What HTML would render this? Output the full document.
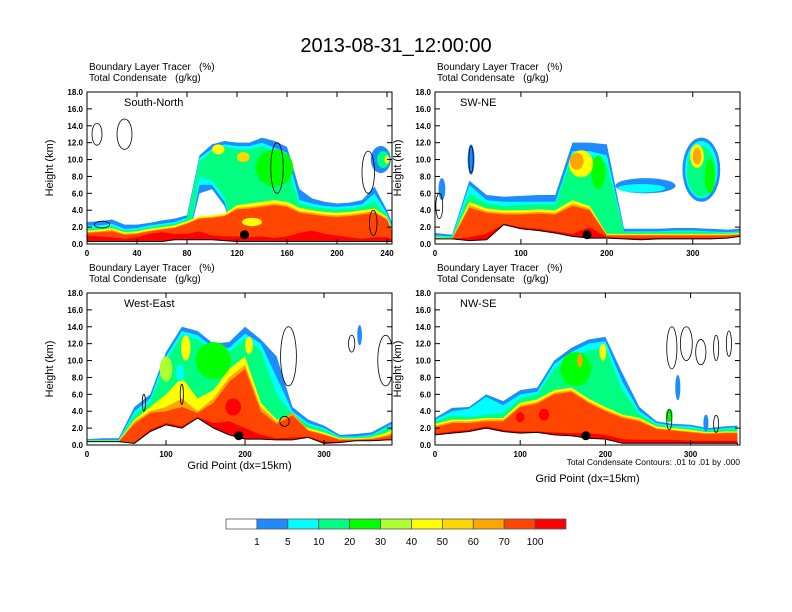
<!DOCTYPE html>
<html><head><meta charset="utf-8"><style>
html,body{margin:0;padding:0;background:#fff;}
svg{display:block;font-family:"Liberation Sans",sans-serif;}
text{white-space:pre;}
</style></head><body>
<svg id="fig" width="792" height="612" viewBox="0 0 792 612">
<text x="396" y="52" text-anchor="middle" font-size="20">2013-08-31_12:00:00</text>
<g id="panels"></g>
<g id="cbar"></g>
</svg>
<script>
// ---- colour levels ----
const cbLabels=["1","5","10","20","30","40","50","60","70","100"];
const cbColors=["#ffffff","#1e8cff","#00ffff","#00ff80","#00ff00","#adff2f","#ffff00","#ffd700","#ffa500","#ff4500","#ff0000"];

// ---- Panel 1: South-North ----
const p1X=[0,10,20,30,40,50,60,70,80,90,100,110,120,130,140,150,160,170,180,190,200,210,220,230,240,244];
const p1Terr=[0.3,0.3,0.3,0.3,0.3,0.3,0.3,0.5,0.5,0.5,0.5,0.4,0.3,0.3,0.3,0.3,0.3,0.3,0.3,0.3,0.3,0.3,0.3,0.3,0.3,0.3];
const p1T1=[2.6,2.7,2.9,2.3,2.3,2.5,2.8,3.0,3.4,10.5,11.8,12.2,12.0,12.0,12.6,12.2,11.5,6.5,5.4,5.0,4.8,4.9,5.2,6.8,4.0,2.5];
const p1B1=[0,0,0,0,0,0,0,0,0,6.0,6.5,4.5,0,0,0,0,0,0,0,0,0,0,0,0,0,0];
const p1T5=[2.2,2.2,2.4,1.8,1.9,2.2,2.4,2.6,3.1,10.2,11.3,11.8,11.6,11.6,12.0,11.4,10.8,5.2,4.8,4.5,4.4,4.5,4.7,6.0,3.6,2.2];
const p1B5=[0,0,0,0,0,0,0,0,0,7.0,7.0,5.0,0,0,0,0,0,0,0,0,0,0,0,0,0,0];
const p1T10=[1.8,1.9,2.1,1.6,1.7,2.0,2.2,2.4,2.9,9.8,11.0,11.5,11.2,11.2,11.6,10.8,9.5,4.8,4.4,4.2,4.1,4.2,4.4,5.0,3.4,2.0];
const p1B10=[0,0,0,0,0,0,0,0,0,8.0,7.5,5.5,0,0,0,0,0,0,0,0,0,0,0,0,0,0];
const p1T40=[1.6,1.7,1.9,1.4,1.5,1.8,2.0,2.2,2.7,3.3,3.4,3.6,4.6,4.8,5.0,5.2,5.0,4.3,4.0,3.8,3.7,3.8,4.0,4.2,3.2,1.8];
const p1T60=[1.4,1.5,1.7,1.2,1.3,1.6,1.8,2.0,2.5,3.1,3.2,3.4,4.3,4.4,4.6,4.8,4.6,3.9,3.7,3.5,3.4,3.5,3.7,3.9,3.0,1.6];
const p1T70=[1.3,1.4,1.5,1.1,1.2,1.5,1.7,1.9,2.4,3.0,3.1,3.3,4.1,4.2,4.4,4.6,4.4,3.7,3.5,3.3,3.2,3.3,3.5,3.7,2.9,1.5];
const p1T100=[1.0,0.9,0.8,0.6,0.8,1.2,1.4,1.2,1.2,1.5,1.0,0.9,0.9,0.8,0.9,0.7,0.9,1.3,1.6,1.2,1.0,0.8,0.6,0.8,0.8,0.6];
const p1BlobX=[150,105,125,235,237,240,132];
const p1BlobY=[9.0,11.2,10.3,10.0,10.0,10.0,2.6];
const p1BlobRX=[15,5,5,8,5,2,8];
const p1BlobRY=[2.2,0.6,0.6,1.6,1.0,0.5,0.5];
const p1BlobLev=[4,6,7,1,3,6,6];
const p1LineX=[8,30,152,225,229,12];
const p1LineY=[13,13,9,8.5,2.5,2.3];
const p1LineRX=[4,6,5,5,3,6];
const p1LineRY=[1.3,1.8,3,2.5,1.5,0.4];
const p1Dot=[126,1.1];

// ---- Panel 2: SW-NE ----
const p2X=[0,20,40,60,80,100,120,140,160,180,200,220,240,260,280,300,320,340,355];
const p2Terr=[0.6,0.6,0.4,0.5,2.3,1.8,1.6,1.3,0.9,0.7,0.7,0.6,0.5,0.6,0.6,0.6,0.6,0.7,0.9];
const p2T1=[1.3,1.1,7.5,5.8,5.6,5.7,5.8,5.8,12.0,12.0,11.8,1.8,1.8,1.8,1.9,1.9,1.8,1.7,1.8];
const p2T5=[1.0,0.9,7.0,5.2,5.0,5.0,5.0,5.0,11.0,11.0,10.5,1.5,1.5,1.5,1.6,1.6,1.5,1.4,1.5];
const p2T10=[0.9,0.8,6.0,4.8,4.5,4.6,4.7,4.7,10.5,10.5,9.5,1.4,1.4,1.4,1.5,1.5,1.4,1.3,1.4];
const p2T40=[0.8,0.7,5.0,4.2,4.0,4.0,4.1,4.0,5.2,4.5,1.2,1.2,1.2,1.2,1.2,1.2,1.2,1.2,1.3];
const p2T60=[0.7,0.6,4.6,3.9,3.7,3.7,3.8,3.7,4.8,4.2,1.1,1.1,1.1,1.1,1.1,1.1,1.1,1.1,1.2];
const p2T70=[0.7,0.6,4.3,3.7,3.5,3.5,3.6,3.5,4.5,4.0,1.0,1.0,1.0,1.0,1.0,1.0,1.0,1.0,1.1];
const p2T100=[0.6,0.6,0.8,1.2,2.4,2.0,1.8,1.5,1.2,2.0,0.8,0.7,0.7,0.7,0.7,0.7,0.7,0.7,0.8];
const p2BlobX=[42,8,245,240,310,310,310,320,305,305,190,170,165];
const p2BlobY=[10,6.5,6.9,6.6,8.8,8.8,8.6,8.0,10.4,10.4,8.5,9.5,9.8];
const p2BlobRX=[4,4,35,28,22,19,17,6,8,5,8,14,8];
const p2BlobRY=[1.8,1.3,0.9,0.5,3.8,3.4,3.0,2.0,1.4,1.0,2.0,1.6,1.0];
const p2BlobLev=[1,1,1,2,1,2,3,4,6,8,4,6,8];
const p2LineX=[42,5];
const p2LineY=[10,4.5];
const p2LineRX=[2.5,4];
const p2LineRY=[1.6,1.5];
const p2Dot=[177,1.1];

// ---- Panel 3: West-East ----
const p3X=[0,20,40,60,80,100,120,140,160,180,200,220,240,260,280,300,320,340,360,380,386];
const p3Terr=[0.4,0.4,0.4,0.2,1.6,2.4,2.0,3.2,2.0,1.2,0.7,0.7,0.6,0.6,0.9,0.2,0.3,0.5,0.5,0.6,0.6];
const p3T1=[0.7,0.8,0.8,4.5,6.0,11.0,14.0,13.5,12.0,12.2,14.0,12.5,10.5,4.5,3.0,2.3,1.2,1.3,1.5,2.5,2.8];
const p3T5=[0.6,0.6,0.6,4.0,5.5,10.5,13.5,13.0,11.5,11.5,13.2,12.0,8.0,4.0,2.6,2.0,1.0,1.0,1.2,2.2,2.5];
const p3T10=[0.55,0.55,0.55,3.6,5.1,10.0,13.0,12.5,11.0,11.0,12.6,11.2,6.0,3.6,2.4,1.8,0.9,0.9,1.1,2.0,2.2];
const p3T40=[0.5,0.5,0.5,3.0,4.5,6.0,8.0,5.5,6.5,9.0,10.5,5.0,3.0,3.0,2.0,1.5,0.8,0.8,0.9,1.5,1.8];
const p3T60=[0.4,0.4,0.4,2.8,4.0,4.5,5.5,4.0,5.5,8.0,9.5,4.5,2.8,3.8,1.8,1.3,0.7,0.7,0.8,1.2,1.5];
const p3T70=[0.4,0.4,0.4,2.5,3.8,4.0,4.5,3.8,5.0,7.5,9.0,4.0,2.5,3.5,1.7,1.2,0.6,0.6,0.7,1.0,1.2];
const p3T100=[0.3,0.3,0.3,0.3,1.8,2.6,2.2,3.3,2.6,2.8,2.0,1.2,0.8,0.9,1.0,0.4,0.4,0.5,0.5,0.6,0.6];
const p3BlobX=[160,125,205,118,345,100,185];
const p3BlobY=[10,11.5,11.8,8.5,13,9,4.5];
const p3BlobRX=[22,6,5,5,3,8,10];
const p3BlobRY=[2.2,1.5,1.0,1.0,1.2,1.5,1.0];
const p3BlobLev=[4,6,6,2,1,5,10];
const p3LineX=[255,335,378,72,120,250];
const p3LineY=[10.5,12,10,5,6,2.8];
const p3LineRX=[10,4,10,2,2,6];
const p3LineRY=[3.5,1,3,1,1.2,0.6];
const p3Dot=[192,1.1];

// ---- Panel 4: NW-SE ----
const p4X=[0,20,40,60,80,100,120,140,160,180,200,220,240,260,280,300,320,340,355];
const p4Terr=[1.2,1.4,1.6,2.0,1.6,1.4,1.5,1.2,1.1,0.8,0.7,0.2,0.2,0.2,0.2,0.2,0.2,0.2,0.2];
const p4T1=[3.2,4.4,4.5,6.0,5.2,6.5,6.8,10.0,11.5,12.5,12.8,8.5,4.5,2.8,2.5,2.4,2.0,2.2,2.3];
const p4T5=[3.0,4.0,4.3,5.7,4.7,6.0,6.3,9.6,11.0,12.0,12.3,7.5,4.0,2.6,2.3,2.2,1.8,2.0,2.1];
const p4T10=[2.8,3.5,3.3,3.6,3.8,5.5,6.0,9.0,10.5,11.2,11.5,6.5,3.7,2.4,2.2,2.0,1.7,1.9,2.0];
const p4T40=[2.5,3.0,3.0,3.2,3.2,5.0,5.4,6.5,6.8,5.5,4.5,3.6,3.2,2.2,2.0,1.8,1.5,1.6,1.6];
const p4T60=[2.3,2.8,2.8,3.0,3.0,4.7,5.1,6.2,6.5,5.2,4.2,3.4,3.0,2.0,1.8,1.6,1.4,1.5,1.5];
const p4T70=[2.1,2.6,2.6,2.8,2.8,4.5,4.9,6.0,6.3,5.0,4.0,3.2,2.8,1.9,1.7,1.5,1.3,1.4,1.4];
const p4T100=[1.3,1.6,1.8,2.2,1.8,1.6,1.6,1.5,1.4,1.4,1.2,0.7,0.6,0.6,0.6,0.5,0.5,0.5,0.5];
const p4BlobX=[165,170,197,285,275,318,128,100];
const p4BlobY=[9,10,11,6.8,3.5,2.6,3.6,3.3];
const p4BlobRX=[18,3,4,3,4,3,6,5];
const p4BlobRY=[2,0.8,1,1.5,0.8,1.0,0.7,0.6];
const p4BlobLev=[4,8,6,1,4,1,10,10];
const p4LineX=[278,295,312,330,345,275,330];
const p4LineY=[11.5,12,11,11.5,12,3,2.5];
const p4LineRX=[6,7,6,3,3,3,3];
const p4LineRY=[2.5,2,1.5,1.5,1.5,1.2,1];
const p4Dot=[177,1.1];

const panels=[
 {name:"south-north",label:"South-North",L:87,T:92,W:305,H:152,xmax:244,xt:[0,40,80,120,160,200,240],X:p1X,terr:p1Terr,
  bands:[[p1T1,p1B1,1],[p1T5,p1B5,2],[p1T10,p1B10,3],[p1T40,null,6],[p1T60,null,8],[p1T70,null,9],[p1T100,null,10]],
  blob:[p1BlobX,p1BlobY,p1BlobRX,p1BlobRY,p1BlobLev],line:[p1LineX,p1LineY,p1LineRX,p1LineRY],dot:p1Dot,xlabel:false},
 {name:"sw-ne",label:"SW-NE",L:435,T:92,W:305,H:152,xmax:355,xt:[0,100,200,300],X:p2X,terr:p2Terr,
  bands:[[p2T1,null,1],[p2T5,null,2],[p2T10,null,3],[p2T40,null,6],[p2T60,null,8],[p2T70,null,9],[p2T100,null,10]],
  blob:[p2BlobX,p2BlobY,p2BlobRX,p2BlobRY,p2BlobLev],line:[p2LineX,p2LineY,p2LineRX,p2LineRY],dot:p2Dot,xlabel:false},
 {name:"west-east",label:"West-East",L:87,T:293,W:305,H:152,xmax:386,xt:[0,100,200,300],X:p3X,terr:p3Terr,
  bands:[[p3T1,null,1],[p3T5,null,2],[p3T10,null,3],[p3T40,null,6],[p3T60,null,8],[p3T70,null,9],[p3T100,null,10]],
  blob:[p3BlobX,p3BlobY,p3BlobRX,p3BlobRY,p3BlobLev],line:[p3LineX,p3LineY,p3LineRX,p3LineRY],dot:p3Dot,xlabel:true},
 {name:"nw-se",label:"NW-SE",L:435,T:293,W:305,H:152,xmax:358,xt:[0,100,200,300],X:p4X,terr:p4Terr,
  bands:[[p4T1,null,1],[p4T5,null,2],[p4T10,null,3],[p4T40,null,6],[p4T60,null,8],[p4T70,null,9],[p4T100,null,10]],
  blob:[p4BlobX,p4BlobY,p4BlobRX,p4BlobRY,p4BlobLev],line:[p4LineX,p4LineY,p4LineRX,p4LineRY],dot:p4Dot,xlabel:true}
];
const NS="http://www.w3.org/2000/svg";
function mk(tag,attrs,parent){const e=document.createElementNS(NS,tag);for(const k in attrs)e.setAttribute(k,attrs[k]);if(parent)parent.appendChild(e);return e;}
const root=document.getElementById('panels');
const defs=mk('defs',{},root);
panels.forEach((p,pi)=>{
  const sx=v=>p.L+v/p.xmax*p.W, sy=v=>p.T+p.H-v/18*p.H;
  const g=mk('g',{},root);
  
  
  const cp=mk('clipPath',{id:'cp'+pi},defs);mk('rect',{x:p.L,y:p.T,width:p.W,height:p.H},cp);
  const plot=mk('g',{'clip-path':'url(#cp'+pi+')'},g);
  p.bands.forEach(b=>{
    const top=b[0],bot=b[1];
    let pts=p.X.map((x,i)=>sx(x)+','+sy(Math.max(top[i],bot?bot[i]:0)));
    for(let i=p.X.length-1;i>=0;i--)pts.push(sx(p.X[i])+','+sy(bot?bot[i]:0));
    const poly=mk('polygon',{points:pts.join(' '),fill:cbColors[b[2]]},plot);
    
    
  });
  const [bx,by,brx,bry,bl]=p.blob;
  bx.forEach((x,i)=>{
    const e=mk('ellipse',{cx:sx(x),cy:sy(by[i]),rx:brx[i]/p.xmax*p.W,ry:bry[i]/18*p.H,fill:cbColors[bl[i]]},plot);
    
    
  });
  let tp=p.X.map((x,i)=>sx(x)+','+sy(p.terr[i]));
  const terr=mk('polygon',{points:tp.join(' ')+' '+sx(p.X[p.X.length-1])+','+(p.T+p.H)+' '+sx(0)+','+(p.T+p.H),fill:'#fff',stroke:'#000','stroke-width':1},plot);
  
  
  const [lx,ly,lrx,lry]=p.line;
  lx.forEach((x,i)=>{
    const e=mk('ellipse',{cx:sx(x),cy:sy(ly[i]),rx:lrx[i]/p.xmax*p.W,ry:lry[i]/18*p.H,fill:'none',stroke:'#000','stroke-width':0.8},plot);
    
    
  });
  const d=mk('circle',{cx:sx(p.dot[0]),cy:sy(p.dot[1]),r:4.5,fill:'#000'},plot);
  
  
  const fr=mk('rect',{x:p.L,y:p.T,width:p.W,height:p.H,fill:'none',stroke:'#000','stroke-width':1},g);
  
  
  for(let v=0;v<=18;v+=2){
    const y=sy(v);
    mk('line',{x1:p.L,x2:p.L+5,y1:y,y2:y,stroke:'#000'},g);
    mk('line',{x1:p.L+p.W,x2:p.L+p.W-5,y1:y,y2:y,stroke:'#000'},g);
    const t=mk('text',{x:p.L-4,y:y+3,'text-anchor':'end','font-size':8,'font-weight':'bold'},g);
    t.textContent=v.toFixed(1);
    
    
  }
  p.xt.forEach(v=>{
    const x=sx(v);
    mk('line',{x1:x,x2:x,y1:p.T+p.H,y2:p.T+p.H-5,stroke:'#000'},g);
    mk('line',{x1:x,x2:x,y1:p.T,y2:p.T+5,stroke:'#000'},g);
    const t=mk('text',{x:x,y:p.T+p.H+12,'text-anchor':'middle','font-size':8,'font-weight':'bold'},g);
    t.textContent=v;
    
    
  });
  const yl=mk('text',{x:0,y:0,transform:'translate('+(p.L-34)+','+(p.T+p.H/2)+') rotate(-90)','text-anchor':'middle','font-size':11},g);
  yl.textContent='Height (km)';
  
  
  const t1=mk('text',{x:p.L+2,y:p.T-22,'font-size':10},g);t1.textContent='Boundary Layer Tracer   (%)';
  
  
  const t2=mk('text',{x:p.L+2,y:p.T-11,'font-size':10},g);t2.textContent='Total Condensate   (g/kg)';
  
  
  const pl=mk('text',{x:p.L+(pi%2?25:37),y:p.T+14,'font-size':11},g);pl.textContent=p.label;
  
  
  if(p.xlabel){
    const xl=mk('text',{x:p.L+p.W/2,y:pi===3?482:469,'text-anchor':'middle','font-size':11},g);
    xl.textContent='Grid Point (dx=15km)';
    
    
  }
  if(pi===3){
    const c=mk('text',{x:740,y:465,'text-anchor':'end','font-size':8.5},g);
    c.textContent='Total Condensate Contours: .01 to .01 by .000';
    
    
  }
});
// colorbar
const cb=document.getElementById('cbar');
const cbL=226,cbW=340/11;
cbColors.forEach((c,i)=>{
  const r=mk('rect',{x:cbL+i*cbW,y:519,width:cbW,height:10,fill:c,stroke:'#555','stroke-width':0.8},cb);
  
  
});
cbLabels.forEach((l,i)=>{
  const t=mk('text',{x:cbL+(i+1)*cbW,y:545,'text-anchor':'middle','font-size':10},cb);
  t.textContent=l;
  
  
});
</script>
</body></html>
